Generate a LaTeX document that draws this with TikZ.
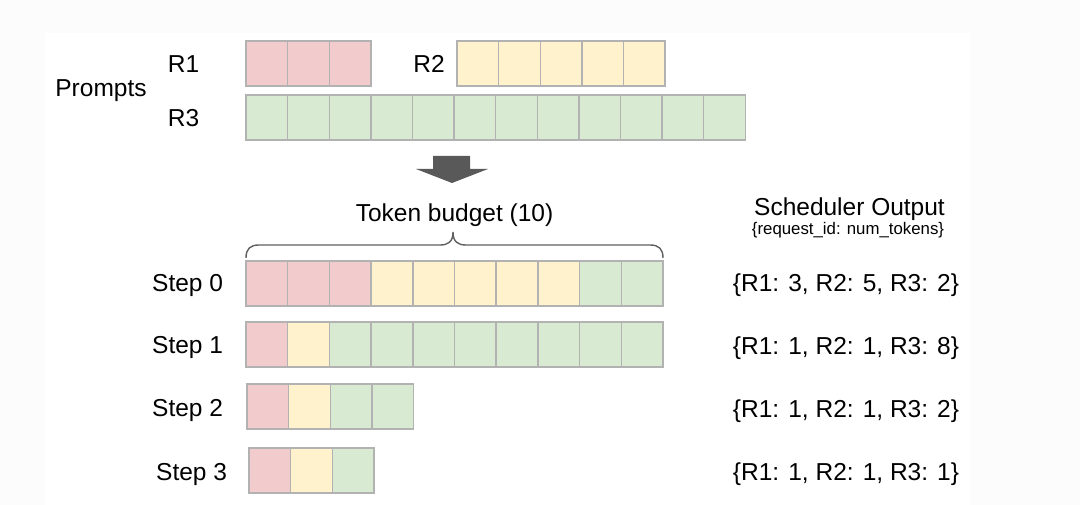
\documentclass[tikz,border=0pt]{standalone}
\usepackage{fontspec}
\setmainfont{Liberation Sans}
\definecolor{cpink}{HTML}{F2CCCD}
\definecolor{cyel}{HTML}{FFF2CC}
\definecolor{cgreen}{HTML}{D9EAD3}
\definecolor{cedge}{HTML}{B2B2B2}
\definecolor{carrow}{HTML}{595959}
\definecolor{cbrace}{HTML}{606060}
\definecolor{cbg}{HTML}{FCFCFC}
\begin{document}
\begin{tikzpicture}[x=1pt,y=-1pt,
  cell/.style={draw=cedge,line width=1.4pt,minimum width=41.6pt,minimum height=45pt,inner sep=0pt,outer sep=0pt,anchor=north west},
  pk/.style={cell,fill=cpink},
  yl/.style={cell,fill=cyel},
  gr/.style={cell,fill=cgreen},
  lbl/.style={font=\fontsize{24.5}{28}\selectfont,inner sep=0pt,text=black},
  small/.style={font=\fontsize{16.8}{20}\selectfont,inner sep=0pt,text=black}]
\useasboundingbox (0,0) rectangle (1080,505);
\fill[cbg] (0,0) rectangle (1080,505);
\fill[white] (45,33) rectangle (970,505);

% prompts
\foreach \c [count=\i from 0] in {pk,pk,pk}
  \node[\c] (r1-\i) at (246+41.6*\i,41) {};
\foreach \c [count=\i from 0] in {yl,yl,yl,yl,yl}
  \node[\c] (r2-\i) at (457+41.6*\i,41) {};
\foreach \c [count=\i from 0] in {gr,gr,gr,gr,gr,gr,gr,gr,gr,gr,gr,gr}
  \node[\c] (r3-\i) at (246+41.6*\i,95) {};

\node[lbl,anchor=base] (prompts) at (101,97) {Prompts};
\node[lbl,anchor=base] (lr1) at (183.5,73) {R1};
\node[lbl,anchor=base] (lr2) at (429,73) {R2};
\node[lbl,anchor=base] (lr3) at (183.5,127) {R3};

% block arrow
\fill[carrow] (433,156) -- (470,156) -- (470,169) -- (488,169) -- (452,183) -- (416,169) -- (433,169) -- cycle;

% token budget
\node[lbl,anchor=base] (budget) at (454.5,222) {Token budget (10)};
\draw[cbrace,line width=1.4pt] (246,258) .. controls (246,249) and (250,245) .. (259,245) -- (440,245) .. controls (448,245) and (453,242) .. (453,232) .. controls (453,242) and (458,245) .. (466,245) -- (650,245) .. controls (659,245) and (663,249) .. (663,258);

% steps
\foreach \c [count=\i from 0] in {pk,pk,pk,yl,yl,yl,yl,yl,gr,gr}
  \node[\c] (s0-\i) at (246+41.7*\i,261) {};
\foreach \c [count=\i from 0] in {pk,yl,gr,gr,gr,gr,gr,gr,gr,gr}
  \node[\c] (s1-\i) at (246+41.7*\i,322) {};
\foreach \c [count=\i from 0] in {pk,yl,gr,gr}
  \node[\c] (s2-\i) at (247+41.6*\i,384) {};
\foreach \c [count=\i from 0] in {pk,yl,gr}
  \node[\c] (s3-\i) at (249+41.6*\i,448) {};

\node[lbl,anchor=base west] (st0) at (152,292) {Step 0};
\node[lbl,anchor=base west] (st1) at (152,354) {Step 1};
\node[lbl,anchor=base west] (st2) at (152,416) {Step 2};
\node[lbl,anchor=base west] (st3) at (156,480) {Step 3};

% scheduler output
\node[lbl,anchor=base] (sched) at (849.5,216) {Scheduler Output};
\node[small,anchor=base] (schedsub) at (848,235) {\{request\_id: num\_tokens\}};
\node[lbl,anchor=base] (o0) at (846,292) {\{R1: 3, R2: 5, R3: 2\}};
\node[lbl,anchor=base] (o1) at (846,355) {\{R1: 1, R2: 1, R3: 8\}};
\node[lbl,anchor=base] (o2) at (846,417) {\{R1: 1, R2: 1, R3: 2\}};
\node[lbl,anchor=base] (o3) at (846,480) {\{R1: 1, R2: 1, R3: 1\}};
\end{tikzpicture}
\end{document}
